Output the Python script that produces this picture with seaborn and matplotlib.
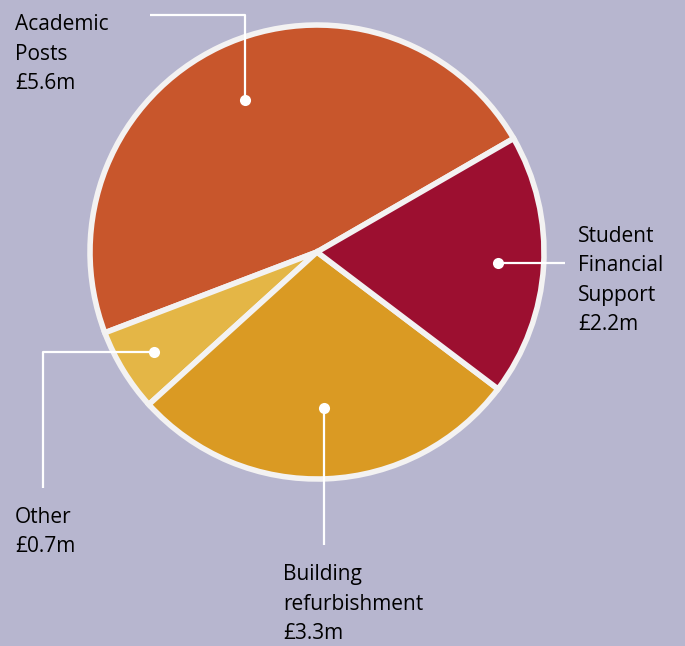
import numpy as np
import matplotlib.pyplot as plt
import seaborn as sns

# values in £m, counter-clockwise from the top-right
labels = ["Academic\nPosts", "Other", "Building\nrefurbishment", "Student\nFinancial\nSupport"]
values = [5.6, 0.7, 3.3, 2.2]
money = ["£5.6m", "£0.7m", "£3.3m", "£2.2m"]
colors = ["#C8562C", "#E4B646", "#DA9A23", "#9C0F30"]

BG = "#B7B6CF"
EDGE = "#F3F2F2"

sns.set_style("white")
plt.rcParams['font.family'] = ['Open Sans', 'DejaVu Sans']

W, H = 685, 646
fig = plt.figure(figsize=(W / 100, H / 100), dpi=100, facecolor=BG)
ax = fig.add_axes([0, 0, 1, 1])
ax.set_facecolor(BG)

cx, cy, R = 317, H - 252, 227
wedges, _ = ax.pie(values, colors=colors, startangle=30, counterclock=True,
                   center=(cx, cy), radius=R, frame=True,
                   wedgeprops=dict(edgecolor=EDGE, linewidth=4))
ax.set_xlim(0, W)
ax.set_ylim(0, H)
ax.set_aspect("equal")
ax.axis("off")

# leader lines: dot inside wedge, then elbow out to label
dot_r = [0.74, 0.84, 0.69, 0.80]
dots = []
for w, f in zip(wedges, dot_r):
    a = np.deg2rad((w.theta1 + w.theta2) / 2)
    dots.append((cx + f * R * np.cos(a), cy + f * R * np.sin(a)))

lw = 1.6
(ax_, ay_), (ox, oy), (bx, by), (sx, sy) = dots
ax.plot([ax_, ax_, 150], [ay_, H - 15, H - 15], color="white", lw=lw, solid_capstyle="butt")
ax.plot([ox, 43, 43], [oy, oy, H - 488], color="white", lw=lw, solid_capstyle="butt")
ax.plot([bx, bx], [by, H - 545], color="white", lw=lw, solid_capstyle="butt")
ax.plot([sx, 565], [sy, sy], color="white", lw=lw, solid_capstyle="butt")
for x, y in dots:
    ax.plot(x, y, "o", color="white", ms=8, mec="none")

# y = baseline of the last line (the amount)
txt = dict(fontsize=15, color="black", va="baseline", ha="left", linespacing=1.53)
pos = [(15, 89), (15, 552), (283, 639), (578, 330)]
for lab, m, (x, y) in zip(labels, money, pos):
    ax.text(x, H - y, lab + "\n" + m, **txt)

fig.savefig("out.png", dpi=100, facecolor=BG)
